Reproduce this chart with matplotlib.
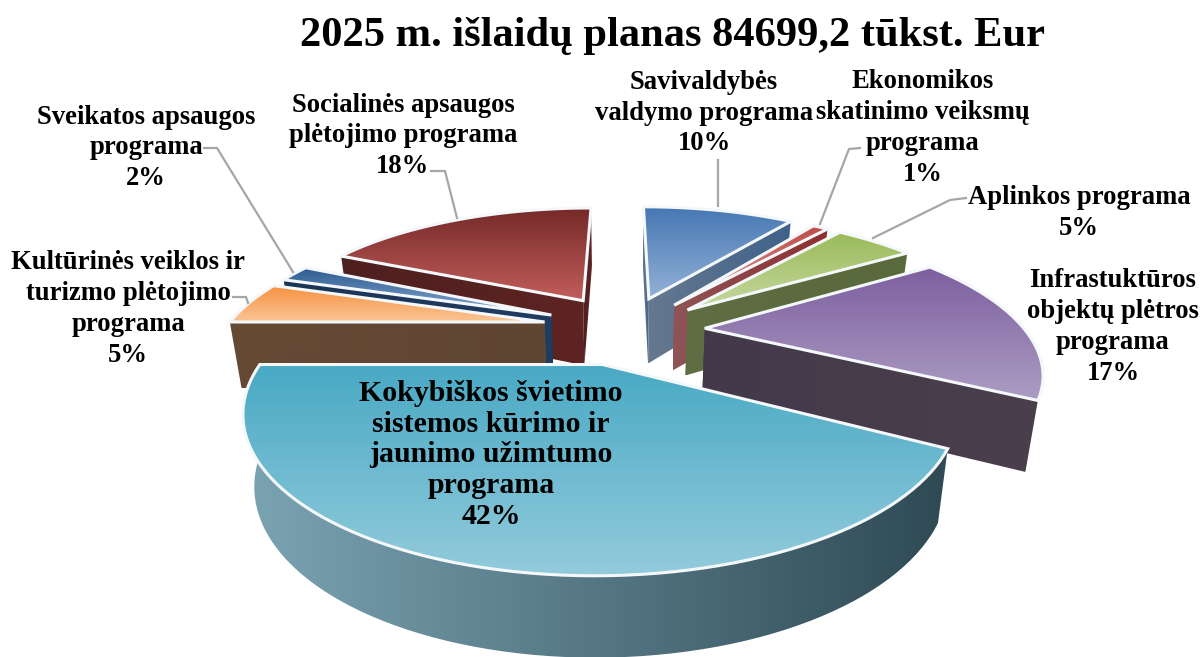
import numpy as np
import matplotlib
matplotlib.use('Agg')
import matplotlib.pyplot as plt
from matplotlib.colors import to_rgb
from matplotlib.patches import Polygon

# data
title = '2025 m. išlaidų planas 84699,2 tūkst. Eur'
names = ['Savivaldybės\nvaldymo programa', 'Ekonomikos\nskatinimo veiksmų\nprograma', 'Aplinkos programa',
         'Infrastuktūros\nobjektų plėtros\nprograma', 'Kokybiškos švietimo\nsistemos kūrimo ir\njaunimo užimtumo\nprograma',
         'Kultūrinės veiklos ir\nturizmo plėtojimo\nprograma', 'Sveikatos apsaugos\nprograma',
         'Socialinės apsaugos\nplėtojimo programa']
values = [10, 1, 5, 17, 42, 5, 2, 18]

# styles, same order as values
top_dark = ['#4677b3', '#bf4b48', '#9aba59', '#7c5f9f', '#49a9c4', '#f6913e', '#2c5a90', '#752a29']
top_light = ['#93b1d6', '#dc9c9a', '#c6d9a0', '#ac9cc2', '#93cbdc', '#fac596', '#86a9d2', '#c25e5b']
wall_left = ['#66788f', '#8f5458', '#5f6e43', '#44394b', '#7ba4b3', '#654a36', '#1b3557', '#4e1f1f']
wall_right = ['#3f628a', '#8e2f30', '#58693b', '#4a3f4d', '#2f4a54', '#5f4632', '#1f3c61', '#5e2423']
explode = [0.29, 0.28, 0.28, 0.262, 0.23, 0.26, 0.267, 0.29]
# small turn of the explode direction, degrees
turn = [0, 0, 1, -6, 0, 10, 10, 6]

label_pos = [(704, 113), (923, 128), (1079, 213), (1113, 327), (491, 455), (128, 309), (146, 148), (403, 136)]
label_size = [19.2, 19.2, 19.2, 19.2, 21.5, 19.2, 19.2, 19.2]
label_spacing = [1.3, 1.3, 1.3, 1.3, 1.19, 1.3, 1.3, 1.3]
leaders = [[(718, 160), (718, 206)],
           [(860, 148), (849, 149), (820, 224)],
           [(966, 198), (950, 200), (873, 238)],
           [],
           [],
           [(233, 297), (246, 297), (248, 303)],
           [(204, 148), (217, 148), (293, 272)],
           [(431, 171), (445, 171), (457, 218)]]

# perspective of the pie plane
CX, CY = 622, 333
R, B, K = 322, 133, 0.27
H, SHRINK = 67, 0.97


def project(x, y):
    s = 1 / (1 - K * y)
    return CX + R * x * s, CY + B * y * s, s


def gradient_fill(ax, xs, ys, c0, c1, vertical, z):
    t = np.linspace(0, 1, 128)[:, None]
    col = (1 - t) * np.array(to_rgb(c0)) + t * np.array(to_rgb(c1))
    img = col[:, None, :] if vertical else col[None, :, :]
    im = ax.imshow(img, extent=(min(xs), max(xs), max(ys), min(ys)), aspect='auto', zorder=z,
                   interpolation='bilinear')
    im.set_clip_path(Polygon(np.column_stack([xs, ys]), transform=ax.transData))


def draw_slice(ax, a0, a1, e, i, z):
    bisect = (a0 + a1) / 2
    mid = bisect + np.radians(turn[i])
    ox, oy = e * np.sin(mid), -e * np.cos(mid)
    t = np.linspace(a0, a1, 80)
    ax_x, ax_y, ax_s = project(np.array([ox]), np.array([oy]))
    rx, ry, rs = project(ox + np.sin(t), oy - np.cos(t))

    top_x = np.r_[ax_x, rx]
    top_y = np.r_[ax_y, ry]
    top_s = np.r_[ax_s, rs]
    bot_x = CX + (top_x - CX) * SHRINK
    bot_y = top_y + H * np.sqrt(top_s)

    if np.cos(bisect) < 0:
        # slice faces the viewer, only the outer wall shows
        xs = np.r_[top_x[1:], bot_x[:0:-1]]
        ys = np.r_[top_y[1:], bot_y[:0:-1]]
        gradient_fill(ax, xs, ys, wall_left[i], wall_right[i], False, z)
        z += 1
    else:
        # radial walls
        for j in (1, -1):
            xs = [top_x[0], top_x[j], bot_x[j], bot_x[0]]
            ys = [top_y[0], top_y[j], bot_y[j], bot_y[0]]
            gradient_fill(ax, xs, ys, wall_left[i], wall_right[i], False, z)
            z += 1
    # top face
    gradient_fill(ax, top_x, top_y, top_dark[i], top_light[i], True, z)
    ax.add_patch(Polygon(np.column_stack([top_x, top_y]), closed=True, fill=False, edgecolor='#f4f8fa',
                         lw=2.2, joinstyle='miter', zorder=z + 1))
    return z + 2


fig = plt.figure(figsize=(12.03, 6.57), dpi=100)
ax = fig.add_axes([0, 0, 1, 1])
ax.axis('off')

# angles run clockwise from 12 o'clock
edges = np.r_[0, np.cumsum(values)] / np.sum(values) * 2 * np.pi
mids = (edges[:-1] + edges[1:]) / 2
z = 1
# back to front
for i in np.argsort(-np.cos(mids)):
    z = draw_slice(ax, edges[i], edges[i + 1], explode[i], i, z)

ax.set_xlim(0, 1203)
ax.set_ylim(657, 0)

for pts in leaders:
    if pts:
        ax.plot(*zip(*pts), color='#a6a6a6', lw=1.6, zorder=z)

font = ['Liberation Serif', 'DejaVu Serif']
ax.text(673, 36, title, family=font, weight='bold', fontsize=30.6, ha='center', va='center', color='black', zorder=z + 1)
for name, v, pos, size, sp in zip(names, values, label_pos, label_size, label_spacing):
    ax.text(pos[0], pos[1], f'{name}\n{v}%', family=font, weight='bold', fontsize=size, ha='center', va='center',
            linespacing=sp, color='black', zorder=z + 1)

fig.savefig('out.png', dpi=100)
